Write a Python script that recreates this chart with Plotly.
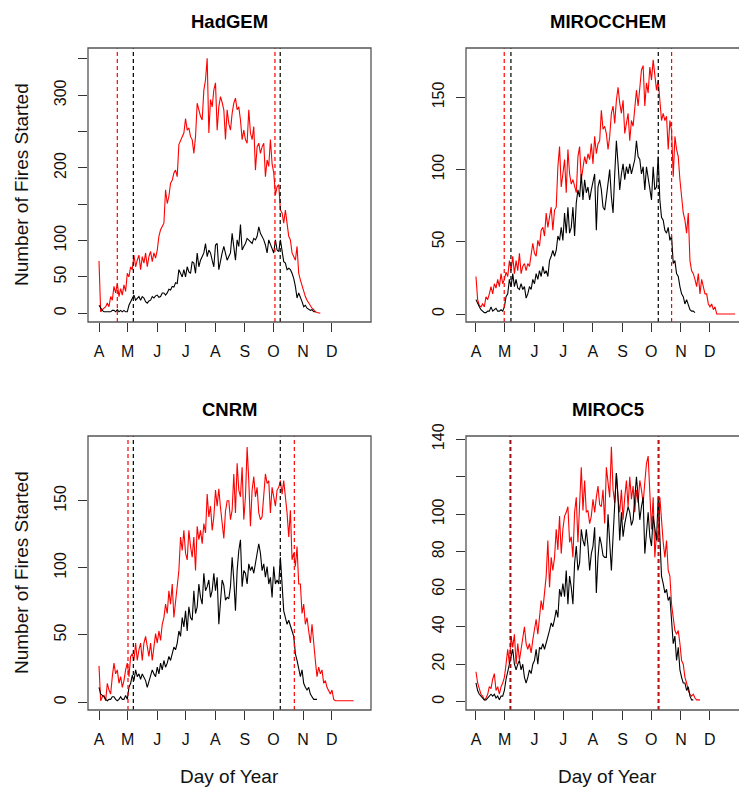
import plotly.graph_objects as go

# ---------------- data ----------------
DAY0 = 91          # first day of every series (1 April)
STEP = 1.745       # days between successive samples

month_labels = ["A", "M", "J", "J", "A", "S", "O", "N", "D"]
month_days = [91, 121, 152, 182, 213, 244, 274, 305, 335]

panel_titles = ["HadGEM", "MIROCCHEM", "CNRM", "MIROC5"]

hadgem_red = [72, 2, 5, 7, 9, 14, 9, 23, 18, 37, 28, 41, 23, 34, 25, 39, 30, 55, 50, 64, 60, 80, 64, 73, 80, 60,
              78, 69, 83, 64, 78, 85, 71, 83, 76, 87, 106, 115, 119, 124, 170, 151, 161, 179, 183, 193, 197, 188,
              232, 239, 243, 248, 268, 252, 255, 243, 239, 220, 243, 289, 278, 271, 266, 307, 321, 351, 248, 294,
              284, 307, 317, 252, 284, 298, 290, 280, 239, 280, 261, 252, 275, 289, 296, 280, 284, 266, 239, 252,
              239, 234, 280, 248, 239, 257, 197, 229, 234, 220, 229, 234, 188, 211, 202, 239, 206, 193, 163, 174,
              177, 142, 138, 124, 142, 119, 106, 101, 83, 78, 73, 92, 55, 46, 37, 28, 23, 18, 14, 9, 7, 5, 2, 1,
              1, 0]
hadgem_black = [11, 7, 4, 2, 2, 2, 1, 2, 4, 4, 2, 5, 2, 4, 2, 4, 2, 2, 11, 16, 21, 25, 18, 21, 23, 18, 23, 21, 16,
                14, 17, 18, 23, 21, 24, 25, 22, 23, 28, 28, 25, 28, 33, 32, 37, 36, 42, 41, 60, 55, 50, 60, 50, 64,
                57, 55, 71, 69, 55, 83, 64, 73, 78, 83, 96, 78, 87, 83, 73, 64, 94, 96, 60, 73, 83, 92, 83, 73, 78,
                83, 110, 87, 73, 101, 92, 122, 87, 92, 96, 103, 101, 99, 96, 103, 101, 106, 119, 110, 106, 101, 94,
                83, 101, 96, 89, 83, 101, 87, 85, 101, 83, 71, 69, 60, 62, 60, 55, 48, 37, 21, 28, 23, 16, 9, 11,
                7, 6, 4, 5, 2, 2]

mirocchem_red = [26, 10, 6, 5, 7, 5, 12, 10, 14, 19, 14, 21, 18, 24, 19, 28, 21, 24, 29, 26, 37, 30, 40, 28, 37,
                 30, 42, 28, 33, 35, 30, 35, 33, 42, 49, 42, 40, 51, 47, 58, 60, 54, 70, 60, 67, 74, 58, 72, 74,
                 102, 116, 88, 97, 107, 84, 114, 97, 90, 93, 88, 84, 109, 116, 93, 102, 109, 104, 111, 107, 118,
                 104, 123, 111, 118, 120, 141, 128, 130, 125, 114, 123, 139, 144, 132, 148, 157, 146, 139, 148, 125,
                 132, 139, 120, 134, 130, 141, 155, 144, 160, 169, 172, 144, 160, 153, 171, 162, 176, 167, 155, 162,
                 148, 134, 139, 134, 137, 114, 134, 127, 95, 123, 114, 109, 93, 79, 70, 65, 56, 70, 37, 30, 28, 24,
                 19, 28, 14, 24, 19, 14, 14, 7, 5, 7, 3, 5, 0, 0, 0, 0, 0, 0, 0, 0, 0, 0, 0, 0]
mirocchem_black = [10, 7, 5, 3, 2, 1, 1, 2, 2, 5, 2, 3, 4, 2, 2, 3, 2, 5, 12, 14, 24, 19, 28, 19, 24, 18, 17, 21,
                   17, 19, 11, 14, 19, 17, 24, 21, 28, 24, 30, 26, 33, 28, 30, 26, 37, 40, 44, 40, 44, 54, 51, 60,
                   51, 70, 56, 74, 56, 60, 74, 54, 77, 86, 81, 97, 79, 93, 84, 88, 79, 86, 93, 97, 58, 88, 93, 86,
                   74, 72, 81, 90, 100, 81, 70, 97, 120, 104, 86, 97, 104, 93, 102, 97, 104, 97, 102, 107, 120, 109,
                   107, 97, 102, 86, 102, 93, 88, 79, 102, 86, 88, 109, 79, 67, 65, 58, 56, 60, 51, 54, 35, 37, 28,
                   26, 19, 14, 12, 7, 10, 6, 3, 2, 2, 1]

cnrm_red = [27, 1, 4, 5, 1, 14, 9, 6, 19, 29, 21, 24, 14, 19, 11, 16, 24, 29, 19, 34, 36, 31, 44, 31, 39, 44, 31,
            44, 49, 41, 34, 44, 31, 41, 51, 44, 53, 46, 58, 63, 73, 66, 83, 73, 88, 63, 76, 86, 98, 123, 113, 128,
            111, 106, 128, 116, 108, 123, 98, 131, 121, 128, 118, 133, 126, 155, 138, 146, 128, 138, 158, 146, 159,
            145, 135, 122, 142, 150, 150, 136, 143, 170, 141, 178, 158, 153, 175, 136, 153, 190, 165, 131, 158,
            168, 153, 160, 141, 136, 138, 153, 170, 163, 165, 141, 160, 153, 146, 158, 160, 165, 155, 165, 155,
            141, 123, 143, 106, 111, 101, 116, 88, 88, 66, 73, 58, 63, 53, 44, 58, 41, 31, 19, 26, 21, 24, 14,
            16, 11, 9, 6, 9, 2, 1, 1, 1, 1, 1, 1, 1, 1, 1, 1, 1, 1]
cnrm_black = [11, 6, 5, 4, 2, 1, 2, 2, 4, 4, 2, 1, 2, 4, 2, 2, 5, 2, 11, 14, 20, 16, 24, 19, 21, 17, 21, 19, 16,
              11, 16, 19, 24, 21, 19, 26, 21, 29, 24, 31, 26, 29, 34, 31, 36, 41, 39, 44, 53, 49, 63, 56, 68, 53,
              71, 63, 61, 83, 66, 71, 88, 78, 73, 96, 83, 86, 91, 78, 83, 96, 83, 93, 58, 72, 91, 87, 76, 78, 77,
              86, 108, 91, 68, 98, 113, 121, 86, 98, 96, 88, 103, 98, 101, 96, 103, 108, 118, 111, 98, 103, 93,
              101, 88, 93, 78, 101, 88, 91, 88, 108, 83, 68, 63, 58, 61, 56, 53, 49, 36, 31, 26, 19, 24, 14, 11,
              9, 11, 6, 4, 2, 2, 2]

miroc5_red = [16, 10, 7, 4, 3, 1, 2, 4, 8, 7, 12, 15, 6, 8, 4, 8, 10, 13, 20, 28, 20, 35, 29, 36, 20, 31, 22, 29,
              33, 40, 31, 28, 31, 26, 33, 38, 44, 36, 45, 54, 49, 60, 67, 86, 61, 77, 70, 77, 92, 81, 99, 79, 92,
              99, 101, 104, 85, 88, 77, 101, 109, 85, 106, 125, 102, 118, 101, 102, 95, 99, 108, 101, 109, 115,
              105, 104, 113, 95, 125, 118, 109, 136, 113, 106, 122, 108, 101, 113, 97, 109, 118, 104, 120, 108,
              115, 101, 113, 106, 118, 113, 106, 117, 127, 131, 115, 92, 109, 77, 90, 86, 109, 95, 85, 77, 86, 70,
              67, 52, 45, 38, 36, 38, 31, 22, 20, 13, 10, 6, 4, 3, 4, 2, 1, 1, 1]
miroc5_black = [10, 6, 4, 3, 2, 1, 1, 2, 3, 4, 3, 4, 2, 3, 1, 3, 3, 6, 12, 17, 20, 24, 28, 20, 17, 20, 22, 17, 20,
                13, 10, 13, 17, 15, 20, 22, 28, 20, 29, 28, 31, 28, 31, 35, 38, 42, 40, 44, 49, 45, 60, 56, 63, 56,
                70, 52, 67, 61, 52, 74, 83, 70, 74, 92, 86, 83, 92, 83, 70, 79, 83, 93, 58, 77, 88, 84, 78, 77, 77,
                100, 86, 70, 88, 104, 122, 109, 86, 101, 88, 95, 99, 104, 101, 94, 97, 109, 120, 109, 97, 104, 109,
                79, 92, 101, 88, 83, 99, 92, 86, 109, 83, 67, 63, 58, 60, 54, 56, 44, 31, 35, 22, 29, 17, 13, 10,
                10, 6, 8, 3, 1, 1]

# season start / end markers (day of year)
red_marks = [[110.2, 275.5], [120.5, 295.2], [121.4, 295.8], [126.5, 281.1]]
black_marks = [[127.0, 281.0], [127.5, 281.3], [127.0, 281.1], [127.3, 281.9]]

series_red = [hadgem_red, mirocchem_red, cnrm_red, miroc5_red]
series_black = [hadgem_black, mirocchem_black, cnrm_black, miroc5_black]

y_tickvals = [[0, 50, 100, 150, 200, 250, 300, 350],
              [0, 50, 100, 150],
              [0, 50, 100, 150],
              [0, 20, 40, 60, 80, 100, 120, 140]]
y_ticktext = [["0", "50", "100", "", "200", "", "300", ""],
              ["0", "50", "100", "150"],
              ["0", "50", "100", "150"],
              ["0", "20", "40", "60", "80", "100", "", "140"]]

# ---------------- layout ----------------
W, H = 739, 787
FONT = "Liberation Sans, Arial, Helvetica, sans-serif"

# plot boxes in pixels: x0, x1, y0(top), y1(bottom)
boxes = [(88, 371, 48, 322), (466, 749, 48, 322), (88, 371, 436, 710), (466, 749, 436, 710)]
x_ranges = [[79.47, 376.2], [80.6, 376.0], [79.47, 376.2], [80.6, 376.0]]
y_ranges = [[-12.0, 365.0], [-5.5, 184.2], [-5.9, 198.3], [-4.4, 141.7]]

fig = go.Figure()
layout = dict(width=W, height=H, margin=dict(l=0, r=0, t=0, b=0, autoexpand=False),
              paper_bgcolor="white", plot_bgcolor="white", showlegend=False,
              font=dict(family=FONT, color="#111"))
shapes = []
annotations = []

for k in range(4):
    x0, x1, y0, y1 = boxes[k]
    xr = list(x_ranges[k])
    if x1 > W:  # panel is cut off by the picture edge
        frac = (W - x0) / (x1 - x0)
        xr[1] = xr[0] + (xr[1] - xr[0]) * frac
        x1d = W
    else:
        x1d = x1
    sfx = "" if k == 0 else str(k + 1)
    xa, ya = "x" + sfx, "y" + sfx
    layout["xaxis" + sfx] = dict(
        domain=[x0 / W, x1d / W], range=xr, anchor=ya,
        tickvals=month_days, ticktext=month_labels, ticks="outside", ticklen=9,
        tickcolor="#333", tickwidth=1, showgrid=False, zeroline=False, showline=False,
        ticklabelstandoff=6, automargin=False,
        tickfont=dict(size=16, color="#111"), fixedrange=True)
    layout["yaxis" + sfx] = dict(
        domain=[1 - y1 / H, 1 - y0 / H], range=y_ranges[k], anchor=xa,
        tickvals=y_tickvals[k], ticktext=y_ticktext[k], tickangle=-90, ticks="outside",
        ticklen=9, tickcolor="#333", tickwidth=1, showgrid=False, zeroline=False,
        showline=False, ticklabelstandoff=6, automargin=False,
        tickfont=dict(size=16, color="#111"), fixedrange=True)

    days_r = [DAY0 + STEP * i for i in range(len(series_red[k]))]
    days_b = [DAY0 + STEP * i for i in range(len(series_black[k]))]
    fig.add_trace(go.Scatter(x=days_r, y=series_red[k], mode="lines", hoverinfo="skip",
                             line=dict(color="#FF0000", width=1.1), xaxis=xa, yaxis=ya))
    fig.add_trace(go.Scatter(x=days_b, y=series_black[k], mode="lines", hoverinfo="skip",
                             line=dict(color="#000000", width=1.1), xaxis=xa, yaxis=ya))

    for d in black_marks[k]:
        shapes.append(dict(type="line", xref=xa, yref=ya + " domain", x0=d, x1=d, y0=0, y1=1,
                           line=dict(color="#000000", width=1.2, dash="4px,3px")))
    for d in red_marks[k]:
        shapes.append(dict(type="line", xref=xa, yref=ya + " domain", x0=d, x1=d, y0=0, y1=1,
                           line=dict(color="#FF0000", width=1.2, dash="4px,3px")))

    # frame
    shapes.append(dict(type="rect", xref="paper", yref="paper",
                       x0=x0 / W, x1=x1 / W, y0=1 - y1 / H, y1=1 - y0 / H,
                       line=dict(color="#555555", width=1.3), fillcolor="rgba(0,0,0,0)"))

    cx = (x0 + x1) / 2
    title_y = 21 if k < 2 else 409
    annotations.append(dict(text="<b>%s</b>" % panel_titles[k], x=cx / W, y=1 - title_y / H,
                            xref="paper", yref="paper", showarrow=False, xanchor="center",
                            yanchor="middle", font=dict(size=18.5, family=FONT, color="#000")))
    if k % 2 == 0:
        annotations.append(dict(text="Number of Fires Started", x=21 / W, y=1 - ((y0 + y1) / 2) / H,
                                xref="paper", yref="paper", showarrow=False, textangle=-90,
                                xanchor="center", yanchor="middle",
                                font=dict(size=19, family=FONT, color="#111")))
    if k >= 2:
        annotations.append(dict(text="Day of Year", x=cx / W, y=1 - 776 / H,
                                xref="paper", yref="paper", showarrow=False,
                                xanchor="center", yanchor="middle",
                                font=dict(size=19, family=FONT, color="#111")))

layout["shapes"] = shapes
layout["annotations"] = annotations
fig.update_layout(**layout)
fig.write_html("out.html", config={"displayModeBar": False, "staticPlot": True},
               post_script="document.body.style.margin='0px';document.body.style.padding='0px';")
